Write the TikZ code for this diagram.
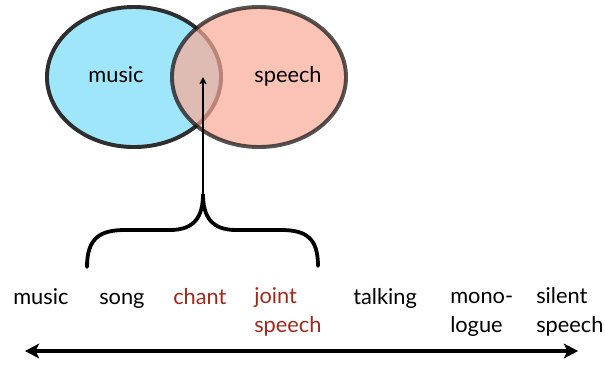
\documentclass[tikz,border=0pt]{standalone}
\usepackage{fontspec}
\setmainfont{Lato}
\usetikzlibrary{arrows.meta, shapes.geometric, positioning}
\definecolor{musicblue}{HTML}{A0E6FA}
\definecolor{speechred}{HTML}{F9A995}
\definecolor{labelred}{HTML}{A3281C}
\tikzset{> = { Stealth[length = 10pt, width = 10.5pt, inset = 2.5pt] }}

\begin{document}
\begin{tikzpicture}[x = 0.025cm, y = -0.025cm, font = \fontsize{15.5}{20}\selectfont,
	set/.style = { draw, ellipse, line width = 2.8pt, minimum width = 4.35cm, minimum height = 3.5cm, inner sep = 0pt },
	word/.style = { anchor = base west, inner sep = 0pt, align = left },
	overlapword/.style = { word, text = labelred },
	brace/.style = { line width = 2.7pt, line cap = round },
	pointer/.style = { line width = 1.2pt, -{Stealth[length = 5pt, width = 5pt, inset = 1pt]} }]
	\useasboundingbox (0,0) rectangle (605,364);

	\node [set, fill = musicblue, draw = black!82] (musicset) at (134,77) {};
	\node [set, fill = speechred, draw = black!95, opacity = 0.7] (speechset) at (259,77) {};
	\node [anchor = base] (musiclabel) at (116,82) {music};
	\node [anchor = base] (speechlabel) at (288,82) {speech};

	\coordinate (overlap) at (203,77);
	\coordinate (bracetip) at (203,194);

	\draw [brace] (87,267) .. controls (87,238) and (100,230) .. (125,230) -- (170,230)
		.. controls (195,230) and (203,216) .. (bracetip)
		.. controls (203,216) and (211,230) .. (236,230) -- (281,230)
		.. controls (306,230) and (318,238) .. (318,266);
	\draw [pointer] (bracetip) -- (overlap);

	% one-line words sit on the first baseline, two-line words on the second
	\node [word] (music) at (13,304) {music};
	\node [word] (song) at (99,304) {song};
	\node [overlapword] (chant) at (173,304) {chant};
	\node [overlapword] (joint) at (254,332) {joint\\speech};
	\node [word] (talking) at (353,304) {talking};
	\node [word] (mono) at (450,332) {mono-\\logue};
	\node [word] (silent) at (536,332) {silent\\speech};

	\coordinate (axisL) at (25,351);
	\coordinate (axisR) at (578,351);
	\draw [<->, line width = 2.6pt] (axisL) -- (axisR);
\end{tikzpicture}
\end{document}
